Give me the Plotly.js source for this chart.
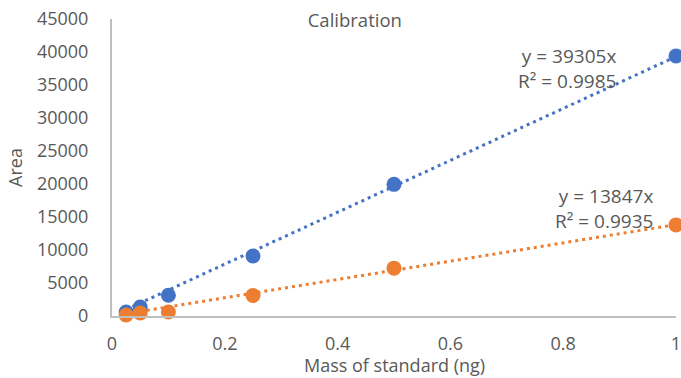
<!DOCTYPE html>
<html><head><meta charset="utf-8">
<script src="https://cdn.plot.ly/plotly-3.0.1.min.js"></script>
<style>html,body{margin:0;padding:0;background:#fff}#chart{width:681px;height:378px}</style>
</head><body><div id="chart"></div>
<script>
const mass = [0.025, 0.05, 0.1, 0.25, 0.5, 1];
const areaBlue = [600, 1350, 3150, 9100, 19950, 39400];
const areaOrange = [150, 450, 600, 3100, 7250, 13800];
const slopes = [39305, 13847];
const r2 = ["0.9985", "0.9935"];
const colors = ["#4472C4", "#ED7D31"];
const yTicks = [0,5000,10000,15000,20000,25000,30000,35000,40000,45000];
const xTicks = [0,0.2,0.4,0.6,0.8,1];

const font = "'Open Sans', 'Liberation Sans', sans-serif";
const gray = "#595959";
const xmin = Math.min(...mass), xmax = Math.max(...mass);
const traces = [];
[areaBlue, areaOrange].forEach((ys, i) => {
  traces.push({x:[xmin, xmax], y:[slopes[i]*xmin, slopes[i]*xmax], mode:'lines',
    line:{color:colors[i], width:3, dash:'3px,4px'}, hoverinfo:'skip', cliponaxis:false});
});
[areaBlue, areaOrange].forEach((ys, i) => {
  traces.push({x:mass, y:ys, mode:'markers', marker:{color:colors[i], size:15}, cliponaxis:false});
});

const annFont = {family:font, size:19, color:gray};
const annotations = [
  {x:0.897, y:37576, xref:'x', yref:'y', text:'y = ' + slopes[0] + 'x<br>R² = ' + r2[0], showarrow:false, xanchor:'right', yanchor:'middle', align:'right', font:annFont},
  {x:0.963, y:16364, xref:'x', yref:'y', text:'y = ' + slopes[1] + 'x<br>R² = ' + r2[1], showarrow:false, xanchor:'right', yanchor:'middle', align:'right', font:annFont},
  {x:0.5, y:-0.2088, xref:'paper', yref:'paper', text:'Mass of standard (ng)', showarrow:false, xanchor:'center', yanchor:'bottom', borderpad:0, font:{family:font, size:18, color:gray}}
];

const layout = {
  width:681, height:378, showlegend:false,
  paper_bgcolor:'#fff', plot_bgcolor:'#fff',
  margin:{l:112, r:5, t:19, b:62},
  title:{text:'Calibration', x:0.521, xanchor:'center', y:0.945, yanchor:'middle', font:{family:font, size:18.5, color:gray}},
  xaxis:{range:[0,1], tickvals:xTicks, ticktext:xTicks.map(String), showgrid:false, zeroline:false,
    showline:true, linecolor:'#BFBFBF', linewidth:2, ticks:'', ticklabelstandoff:10, ticklabeloverflow:'allow',
    tickfont:{family:font, size:18, color:gray}},
  yaxis:{range:[0,45000], tickvals:yTicks, ticktext:yTicks.map(String), showgrid:false, zeroline:false,
    showline:true, linecolor:'#BFBFBF', linewidth:2, ticks:'', ticklabelstandoff:18,
    tickfont:{family:font, size:18, color:gray},
    title:{text:'Area', standoff:10, font:{family:font, size:18, color:gray}}},
  annotations: annotations
};
Plotly.newPlot('chart', traces, layout, {displayModeBar:false, staticPlot:true});
</script></body></html>
